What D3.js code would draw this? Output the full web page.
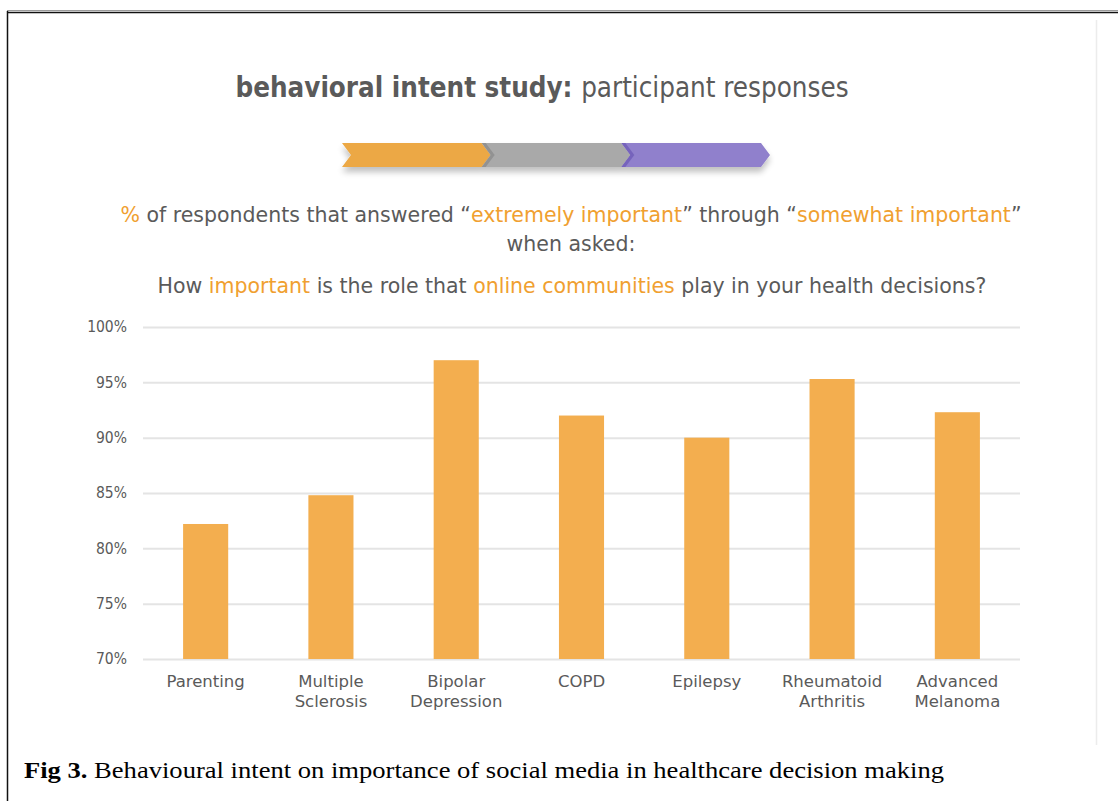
<!DOCTYPE html>
<html>
<head>
<meta charset="utf-8">
<script src="https://cdn.jsdelivr.net/npm/d3@7"></script>
<style>
  body { margin: 0; background: #fff; }
  svg { display: block; }
</style>
</head>
<body>
<svg width="1118" height="801"></svg>
<script>
/*
    Bar chart: share of respondents rating online communities as important, by condition.
*/

// Data
let categories = ['Parenting', 'Multiple\nSclerosis', 'Bipolar\nDepression', 'COPD', 'Epilepsy', 'Rheumatoid\nArthritis', 'Advanced\nMelanoma'];
let values = [82.2, 84.8, 97.0, 92.0, 90.0, 95.3, 92.3];
let yTicks = [70, 75, 80, 85, 90, 95, 100];
let stages = ['orange', 'gray', 'purple'];

// Constants
let svg = d3.select('svg');
let width = +svg.attr('width');
let height = +svg.attr('height');
let margin = {top: 327, right: 98, bottom: 142, left: 143};
let font = '"DejaVu Sans", sans-serif';
let condensed = '"DejaVu Sans Condensed", "DejaVu Sans", sans-serif';
let grayText = '#5a5a5a';
let orangeText = '#f0a030';
let stageColors = {orange: '#eca844', gray: '#a9a9a9', purple: '#9080cc'};
let stageTips = {orange: '#b88a4a', gray: '#8c8c8c', purple: '#6f5cb8'};

// Page frame
svg.append('line').attr('x1', 7).attr('x2', width).attr('y1', 10.5).attr('y2', 10.5)
    .attr('stroke', '#9a9a9a').attr('stroke-width', 1);
svg.append('line').attr('x1', 7).attr('x2', width).attr('y1', 12.5).attr('y2', 12.5)
    .attr('stroke', '#111').attr('stroke-width', 1.5);
svg.append('line').attr('x1', 7.5).attr('x2', 7.5).attr('y1', 11).attr('y2', height)
    .attr('stroke', '#111').attr('stroke-width', 1.5);
svg.append('line').attr('x1', 1096.5).attr('x2', 1096.5).attr('y1', 20).attr('y2', 745)
    .attr('stroke', '#ececec').attr('stroke-width', 1.5);

// Title
let title = svg.append('text')
    .attr('x', 542).attr('y', 97)
    .attr('text-anchor', 'middle')
    .attr('font-family', condensed)
    .attr('font-size', '27.5px')
    .attr('fill', grayText);
title.append('tspan').attr('font-weight', 'bold').text('behavioral intent study: ');
title.append('tspan').text('participant responses');

// Chevron banner
let defs = svg.append('defs');
let shadow = defs.append('filter').attr('id', 'shadow')
    .attr('x', '-10%').attr('y', '-50%').attr('width', '120%').attr('height', '250%');
shadow.append('feGaussianBlur').attr('in', 'SourceAlpha').attr('stdDeviation', 3);
shadow.append('feOffset').attr('dy', 5).attr('result', 'blur');
shadow.append('feComponentTransfer').append('feFuncA').attr('type', 'linear').attr('slope', 0.25);
let merge = shadow.append('feMerge');
merge.append('feMergeNode');
merge.append('feMergeNode').attr('in', 'SourceGraphic');

let bx = d3.scaleBand().domain(stages).range([342, 761]);
let bTop = 143, bBot = 167, bMid = (bTop + bBot) / 2, tip = 9;
let banner = svg.append('g').attr('filter', 'url(#shadow)');
banner.selectAll('polygon.seg')
    .data(stages)
    .enter().append('polygon')
    .attr('class', 'seg')
    .attr('fill', d => stageColors[d])
    .attr('points', d => {
        let x0 = bx(d), x1 = bx(d) + bx.bandwidth();
        return [[x0, bTop], [x1, bTop], [x1 + tip, bMid], [x1, bBot], [x0, bBot], [x0 + tip, bMid]].join(' ');
    });
// darker tips where segments overlap
banner.selectAll('polygon.tip')
    .data(stages.slice(0, 2))
    .enter().append('polygon')
    .attr('class', 'tip')
    .attr('fill', (d, i) => stageTips[stages[i + 1]])
    .attr('opacity', 0.8)
    .attr('points', d => {
        let x1 = bx(d) + bx.bandwidth();
        return [[x1, bTop], [x1 + 4, bTop], [x1 + tip + 4, bMid], [x1 + 4, bBot], [x1, bBot], [x1 + tip, bMid]].join(' ');
    });

// Subtitle lines
let sub1 = svg.append('text')
    .attr('x', 571).attr('y', 222)
    .attr('text-anchor', 'middle')
    .attr('font-family', font)
    .attr('font-size', '20.5px')
    .attr('fill', grayText);
[['%', true], [' of respondents that answered \u201c', false], ['extremely important', true],
 ['\u201d through \u201c', false], ['somewhat important', true], ['\u201d', false]]
    .forEach(p => sub1.append('tspan').attr('fill', p[1] ? orangeText : grayText).text(p[0]));

svg.append('text')
    .attr('x', 571).attr('y', 251)
    .attr('text-anchor', 'middle')
    .attr('font-family', font)
    .attr('font-size', '20.5px')
    .attr('fill', grayText)
    .text('when asked:');

let sub3 = svg.append('text')
    .attr('x', 572).attr('y', 293)
    .attr('text-anchor', 'middle')
    .attr('font-family', font)
    .attr('font-size', '20.5px')
    .attr('fill', grayText);
[['How ', false], ['important', true], [' is the role that ', false], ['online communities', true],
 [' play in your health decisions?', false]]
    .forEach(p => sub3.append('tspan').attr('fill', p[1] ? orangeText : grayText).text(p[0]));

// Scales
let x = d3.scaleBand()
    .domain(categories)
    .range([margin.left, width - margin.right])
    .paddingInner(0.64)
    .paddingOuter(0.32);

let y = d3.scaleLinear()
    .domain([70, 100])
    .range([height - margin.bottom, margin.top]);

// Y axis with gridlines
let yAxis = svg.append('g')
    .attr('transform', 'translate(' + margin.left + ',0)')
    .call(d3.axisLeft(y)
        .tickValues(yTicks)
        .tickSize(-(width - margin.right - margin.left))
        .tickPadding(16)
        .tickFormat(d => d + '%'));
yAxis.select('.domain').remove();
yAxis.selectAll('.tick line').attr('stroke', '#e4e4e4').attr('stroke-width', 2);
yAxis.selectAll('.tick text')
    .attr('font-family', condensed)
    .attr('font-size', '15.5px')
    .attr('fill', grayText);

// Bars
svg.selectAll('rect.bar')
    .data(values)
    .enter().append('rect')
    .attr('class', 'bar')
    .attr('x', (d, i) => x(categories[i]))
    .attr('y', d => y(d))
    .attr('width', x.bandwidth())
    .attr('height', d => y(70) - y(d))
    .attr('fill', '#f3ae4f');

// X labels
let labels = svg.selectAll('text.xlabel')
    .data(categories)
    .enter().append('text')
    .attr('class', 'xlabel')
    .attr('text-anchor', 'middle')
    .attr('font-family', font)
    .attr('font-size', '16.5px')
    .attr('fill', grayText)
    .attr('transform', d => 'translate(' + (x(d) + x.bandwidth() / 2) + ',' + 687 + ')');
labels.each(function(d) {
    d.split('\n').forEach((line, i) => {
        d3.select(this).append('tspan')
            .attr('x', 0)
            .attr('dy', i === 0 ? 0 : 20)
            .text(line);
    });
});

// Caption
let caption = svg.append('text')
    .attr('x', 24).attr('y', 778)
    .attr('font-family', '"Liberation Serif", "Times New Roman", serif')
    .attr('font-size', '23px')
    .attr('fill', '#000')
    .attr('textLength', 920)
    .attr('lengthAdjust', 'spacingAndGlyphs');
caption.append('tspan').attr('font-weight', 'bold').text('Fig 3.');
caption.append('tspan').text(' Behavioural intent on importance of social media in healthcare decision making');
</script>
</body>
</html>
